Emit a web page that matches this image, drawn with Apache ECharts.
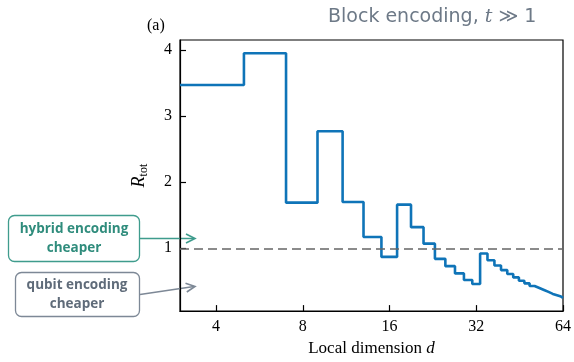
<!DOCTYPE html>
<html><head><meta charset="utf-8">
<script src="https://cdn.jsdelivr.net/npm/echarts@6/dist/echarts.min.js"></script>
<style>html,body{margin:0;padding:0;background:#fff}#c{width:574px;height:362px}</style>
</head><body><div id="c"></div>
<script>
// Local dimension d (each value holds until the next d)
const dims = [3,5,7,9,11,13,15,17,19,21,23,25,27,29,31,33,35,37,39,41,43,45,47,49,51,53,55,57,59,61,63,64];
// R_tot values
const ratio = [3.47,3.95,1.69,2.77,1.70,1.17,0.87,1.66,1.32,1.07,0.84,0.73,0.62,0.52,0.46,0.92,0.82,0.74,0.67,0.61,0.56,0.51,0.47,0.43,0.40,0.37,0.34,0.31,0.29,0.27,0.25,0.25];
const xTicks = [4,8,16,32,64];
const yTicks = [1,2,3,4];
const threshold = 1;

const serif = 'Liberation Serif';
const chart = echarts.init(document.getElementById('c'), null, {renderer:'canvas'});
const teal = '#3f9c8d', tealText = '#2f8c7c';
const slate = '#7d8896', slateText = '#5f6b79';

chart.setOption({
  animation:false,
  grid:{left:180,right:11,top:40,bottom:46,show:true,borderColor:'#000',borderWidth:1.2,backgroundColor:'transparent'},
  xAxis:{
    type:'log', logBase:2, min:3, max:64,
    axisLine:{lineStyle:{color:'#000',width:1.2}},
    axisTick:{inside:true,length:6,lineStyle:{color:'#000',width:1.2}},
    minorTick:{show:false},
    splitLine:{show:false},
    axisLabel:{showMinLabel:false,color:'#000',fontFamily:serif,fontSize:16,margin:8,
      formatter:v=>xTicks.includes(Math.round(v))?String(Math.round(v)):''},
    name:'Local dimension {i|d}', nameLocation:'middle', nameGap:23,
    nameTextStyle:{color:'#000',fontFamily:serif,fontSize:17,verticalAlign:'top',
      rich:{i:{fontFamily:serif,fontStyle:'italic',fontSize:17,color:'#000'}}}
  },
  yAxis:{
    type:'value', min:0.05, max:4.15,
    axisLine:{show:true,lineStyle:{color:'#000',width:1.2}},
    axisTick:{show:true,inside:true,length:6,lineStyle:{color:'#000',width:1.2}},
    splitLine:{show:false},
    axisLabel:{showMinLabel:false,showMaxLabel:false,color:'#000',fontFamily:serif,fontSize:16,margin:8,
      formatter:v=>yTicks.includes(v)?String(v):''},
    name:'{i|R}{s|tot}', nameLocation:'middle', nameGap:30, nameRotate:90,
    nameTextStyle:{rich:{
      i:{fontFamily:serif,fontStyle:'italic',fontSize:18,color:'#000'},
      s:{fontFamily:serif,fontSize:12,color:'#000',padding:[9,0,0,0]}}}
  },
  series:[{
    type:'line', step:'end', showSymbol:false,
    data:dims.map((d,i)=>[d,ratio[i]]),
    lineStyle:{color:'#0f74b8',width:2.6},
    markLine:{silent:true,symbol:'none',label:{show:false},
      lineStyle:{color:'#666',type:[9,5],width:1.7},
      data:[{yAxis:threshold}]}
  }],
  graphic:[
    {type:'text',left:147,top:18,style:{text:'(a)',font:'16px "Liberation Serif"',fill:'#000'}},
    {type:'text',x:328,y:17,style:{
      text:'{a|Block encoding, }{i|t}{a| ≫ 1}',
      verticalAlign:'middle',
      rich:{a:{fontFamily:'DejaVu Sans',fontSize:19,fill:'#6d7987',lineHeight:24,verticalAlign:'middle'},
            i:{fontFamily:'DejaVu Serif',fontStyle:'italic',fontSize:19,fill:'#6d7987',lineHeight:24,verticalAlign:'middle'}}}},
    // hybrid box
    {type:'rect',shape:{x:8.5,y:215.5,width:131,height:46,r:6},style:{fill:'#fff',stroke:teal,lineWidth:1.3}},
    {type:'text',x:74,y:238.5,style:{text:'hybrid encoding\ncheaper',align:'center',verticalAlign:'middle',
      font:'bold 13.5px "Open Sans"',fill:tealText,lineHeight:19}},
    {type:'line',shape:{x1:140,y1:238.5,x2:194,y2:238.5},style:{stroke:teal,lineWidth:1.6}},
    {type:'polyline',shape:{points:[[186,234],[195,238.5],[186,243]]},style:{stroke:teal,lineWidth:1.6,fill:null}},
    // qubit box
    {type:'rect',shape:{x:15.5,y:272.5,width:124,height:44,r:6},style:{fill:'#fff',stroke:slate,lineWidth:1.3}},
    {type:'text',x:77,y:295,style:{text:'qubit encoding\ncheaper',align:'center',verticalAlign:'middle',
      font:'bold 13.5px "Open Sans"',fill:slateText,lineHeight:19}},
    {type:'line',shape:{x1:140,y1:294.5,x2:194,y2:286.5},style:{stroke:slate,lineWidth:1.6}},
    {type:'polyline',shape:{points:[[185.5,283.2],[195,286.4],[186.8,292]]},style:{stroke:slate,lineWidth:1.6,fill:null}}
  ]
});
</script></body></html>
